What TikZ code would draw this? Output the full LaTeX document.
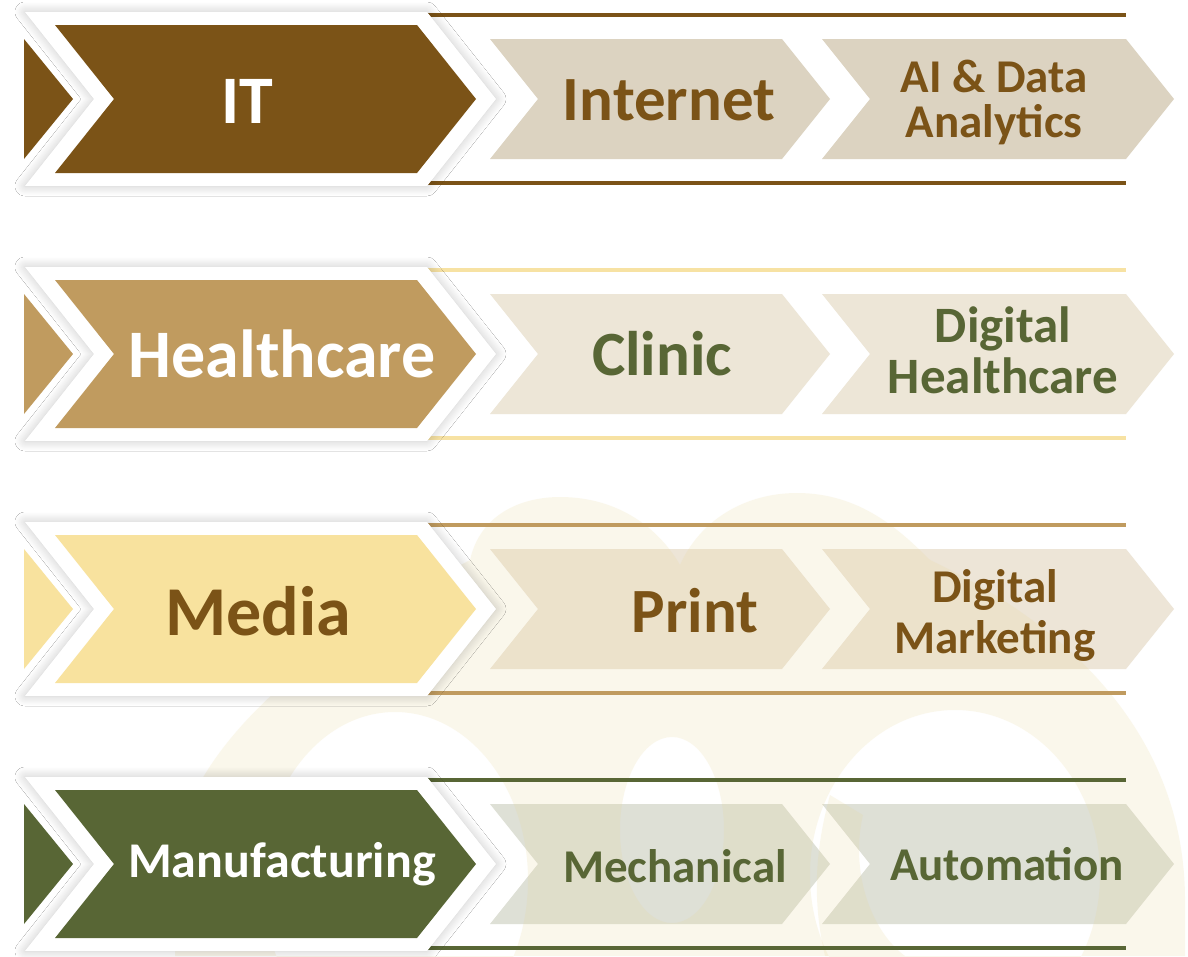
\documentclass[tikz,border=0pt]{standalone}
\usepackage{fontspec}
\setmainfont{Carlito}
\usetikzlibrary{shadows.blur}
\definecolor{itbrown}{HTML}{7B5317}
\definecolor{itbox}{HTML}{DCD3C1}
\definecolor{hcgold}{HTML}{C09B5F}
\definecolor{hcbox}{HTML}{EDE6D7}
\definecolor{hcline}{HTML}{F7E2A3}
\definecolor{olive}{HTML}{586635}
\definecolor{mdyellow}{HTML}{F8E29E}
\definecolor{mdbox}{HTML}{EDE5D7}
\definecolor{mfbox}{HTML}{DEE0D6}
\definecolor{wmark}{HTML}{E8D69A}
\newcommand{\chev}[6]{%
  \fill[#1] (#2,#5-#6) -- (#3,#5-#6) -- (#3+#4,#5) -- (#3,#5+#6) -- (#2,#5+#6) -- (#2+#4,#5) -- cycle;}
\begin{document}
\begin{tikzpicture}[x=1pt,y=-1pt,
  shad/.style={blur shadow={shadow xshift=0pt,shadow yshift=0pt,shadow blur radius=10pt,shadow opacity=22,shadow blur steps=12}},
  lbl/.style={anchor=base, inner sep=0pt, align=center},
  wm/.style={fill=wmark, opacity=0.19},
  rule/.style={line width=4pt}]
\useasboundingbox (0,0) rectangle (1188,956);
\fill[white] (0,0) rectangle (1188,956);
% light boxes
\foreach \c/\bx in {99/itbox,354/hcbox,609/mdbox,864/mfbox}{
  \chev{\bx}{490}{782}{48}{\c}{60}
  \chev{\bx}{822}{1126}{48}{\c}{60}
}
% watermark
\fill[wm, even odd rule] (175,956) -- (175,870)
  .. controls (175,760) and (300,650) .. (470,560)
  .. controls (480,515) and (520,497) .. (560,497)
  .. controls (620,497) and (660,530) .. (680,565)
  .. controls (700,520) and (745,493) .. (797,493)
  .. controls (860,493) and (900,530) .. (930,560)
  .. controls (1100,640) and (1185,760) .. (1185,900)
  -- (1185,956) -- cycle
  (395,880) ellipse [x radius=133, y radius=168]
  (672,830) ellipse [x radius=52, y radius=93]
  (955,875) ellipse [x radius=145, y radius=165];
\fill[wm] (863,815) .. controls (850,870) and (870,930) .. (905,956) -- (825,956)
  .. controls (812,900) and (815,850) .. (830,795) -- cycle;
% rules
\foreach \c/\lc in {99/itbrown,354/hcline,609/hcgold,864/olive}{
  \draw[rule,\lc] (428,\c-84) -- (1126,\c-84);
  \draw[rule,\lc] (428,\c+84) -- (1126,\c+84);
}
% left chevrons
\foreach \c/\mc in {99/itbrown,354/hcgold,609/mdyellow,864/olive}{
  \fill[\mc] (24,\c-60) -- (73,\c) -- (24,\c+60) -- cycle;
  \chev{white,shad}{25}{427}{69}{\c}{87}
  \chev{\mc}{55}{417}{59}{\c}{74}
}
% labels
\node[lbl, text=white, font=\fontsize{68}{68}\selectfont\bfseries] (it) at (247,123) {IT};
\node[lbl, text=itbrown, font=\fontsize{63}{63}\selectfont\bfseries] (internet) at (669,120) {Internet};
\node[lbl, text=itbrown, font=\fontsize{47}{45}\selectfont\bfseries] (ai) at (994,137) {AI \& Data\\Analytics};
\node[lbl, text=white, font=\fontsize{68}{68}\selectfont\bfseries] (health) at (282,377) {Healthcare};
\node[lbl, text=olive, font=\fontsize{63}{63}\selectfont\bfseries] (clinic) at (662,375) {Clinic};
\node[lbl, text=olive, font=\fontsize{51}{51}\selectfont\bfseries] (dighealth) at (1003,393) {Digital\\Healthcare};
\node[lbl, text=itbrown, font=\fontsize{70}{70}\selectfont\bfseries] (media) at (258,635) {Media};
\node[lbl, text=itbrown, font=\fontsize{63}{63}\selectfont\bfseries] (print) at (695,632) {Print};
\node[lbl, text=itbrown, font=\fontsize{47}{51}\selectfont\bfseries] (digmark) at (995,653) {Digital\\Marketing};
\node[lbl, text=white, font=\fontsize{50}{50}\selectfont\bfseries] (manu) at (282,877) {Manufacturing};
\node[lbl, text=olive, font=\fontsize{47}{47}\selectfont\bfseries] (mech) at (675,882) {Mechanical};
\node[lbl, text=olive, font=\fontsize{47}{47}\selectfont\bfseries] (auto) at (1007,880) {Automation};
\end{tikzpicture}
\end{document}
